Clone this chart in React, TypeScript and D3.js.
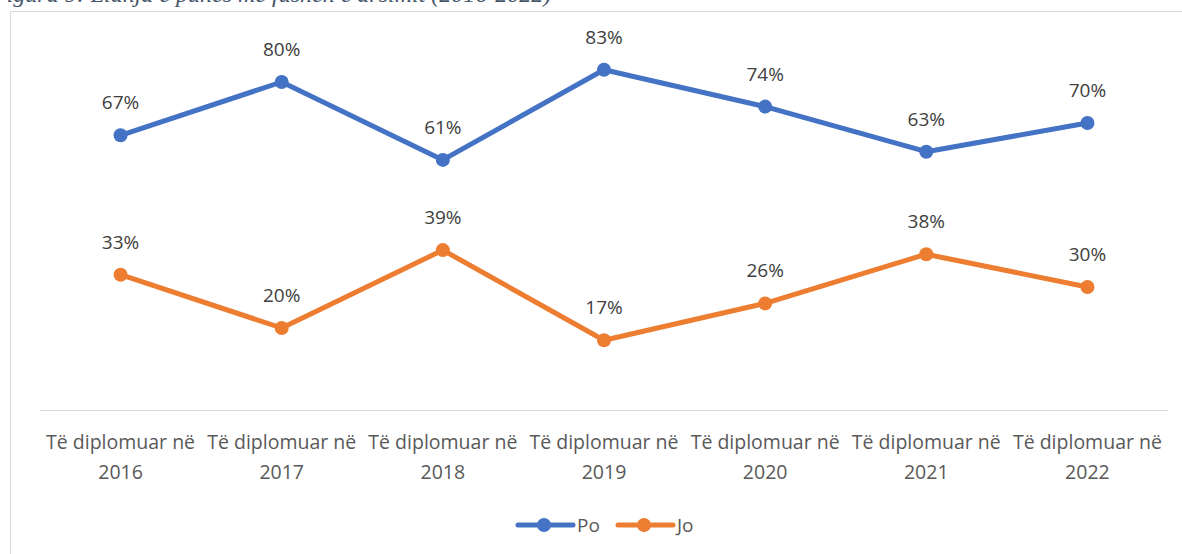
import React from 'react';
import * as d3 from 'd3';

const years = ['2016', '2017', '2018', '2019', '2020', '2021', '2022'];
const poValues = [67, 80, 61, 83, 74, 63, 70];
const joValues = [33, 20, 39, 17, 26, 38, 30];
const seriesNames = ['Po', 'Jo'];
const seriesColors = ['#4472C4', '#ED7D31'];
const caption = 'Figura 9: Lidhja e punës me fushën e arsimit (2016-2022)';

const W = 1182;
const H = 554;
const font = "'Open Sans', sans-serif";

export default function App() {
  const x = d3.scaleBand<string>().domain(years).range([40, 1168]);
  const y = d3.scaleLinear().domain([0, 90]).range([410, 41]);
  const cx = (yr: string) => (x(yr) as number) + x.bandwidth() / 2;

  const line = d3
    .line<number>()
    .x((_, i) => cx(years[i]))
    .y((d) => y(d));

  const series = [poValues, joValues];

  // legend layout
  const legendX = [518, 618];

  return (
    <svg width={W} height={H} style={{ position: 'absolute', left: 0, top: 0, background: '#fff' }}>
      <text x={-8} y={2} fontFamily="'Liberation Serif', serif" fontStyle="italic" fontSize={24} fill="#44546A">
        {caption}
      </text>
      <rect x={10.5} y={11.5} width={W} height={H} fill="none" stroke="#D9D9D9" strokeWidth={1} />

      {/* category axis */}
      <line x1={40} x2={1168} y1={410.5} y2={410.5} stroke="#D9D9D9" strokeWidth={1} />
      {years.map((yr) => (
        <text key={yr} x={cx(yr)} textAnchor="middle" fontFamily={font} fontSize={19.5} fill="#595959">
          <tspan x={cx(yr)} y={449}>Të diplomuar në</tspan>
          <tspan x={cx(yr)} y={479}>{yr}</tspan>
        </text>
      ))}

      {series.map((vals, s) => (
        <g key={seriesNames[s]}>
          <path d={line(vals) as string} fill="none" stroke={seriesColors[s]} strokeWidth={5} strokeLinejoin="round" strokeLinecap="round" />
          {vals.map((v, i) => (
            <circle key={i} cx={cx(years[i])} cy={y(v)} r={7} fill={seriesColors[s]} />
          ))}
          {vals.map((v, i) => (
            <text key={'l' + i} x={cx(years[i])} y={y(v) - 26} textAnchor="middle" fontFamily={font} fontSize={19} fill="#404040">
              {v}%
            </text>
          ))}
        </g>
      ))}

      {/* legend */}
      {seriesNames.map((n, s) => (
        <g key={n} transform={`translate(${legendX[s]},525)`}>
          <line x1={0} x2={55} y1={0} y2={0} stroke={seriesColors[s]} strokeWidth={5} strokeLinecap="round" />
          <circle cx={26} cy={0} r={7} fill={seriesColors[s]} />
          <text x={59} y={7} fontFamily={font} fontSize={19} fill="#595959">
            {n}
          </text>
        </g>
      ))}
    </svg>
  );
}
